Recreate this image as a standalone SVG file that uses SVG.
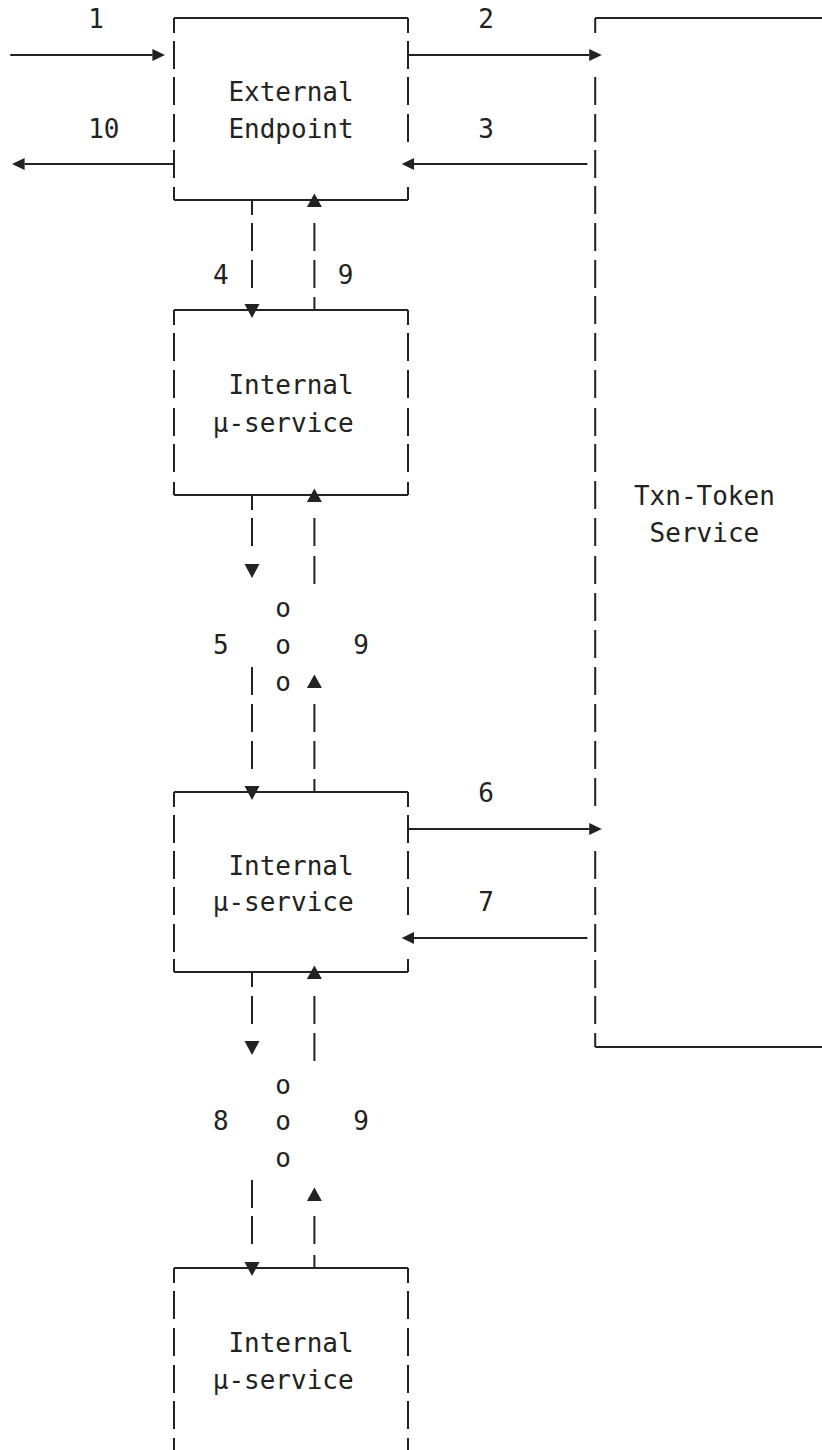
<svg xmlns="http://www.w3.org/2000/svg" width="822" height="1450" viewBox="0 0 822 1450">
<style>
.ln{stroke:#222;stroke-width:2;fill:none}
.ah{fill:#222}
.t{font-family:"DejaVu Sans Mono","Liberation Mono",monospace;font-size:26px;fill:#222;text-anchor:middle}
</style>
<rect width="822" height="1450" fill="#fff"/>
<g id="external-endpoint">
<path class="ln" d="M174,18H408M174,200H408
M174,18V33M174,41V69M174,77V105M174,114V142M174,150V178M174,187V200
M408,18V33M408,41V69M408,77V105M408,114V142M408,187V200"/>
<text class="t" x="291" y="101">External</text>
<text class="t" x="291" y="138">Endpoint</text>
</g>
<g id="internal-1">
<path class="ln" d="M174,310H408M174,495H408
M174,310V325M174,333V361M174,370V398M174,408V436M174,444V472M174,482V495
M408,310V325M408,333V361M408,370V398M408,408V436M408,444V472M408,482V495"/>
<text class="t" x="291" y="394">Internal</text>
<text class="t" x="283.2" y="432">μ-service</text>
</g>
<g id="internal-2">
<path class="ln" d="M174,792H408M174,972H408
M174,792V807M174,815V843M174,851V879M174,887V915M174,924V952M174,959V972
M408,792V807M408,815V843M408,851V879M408,887V915M408,959V972"/>
<text class="t" x="291" y="875">Internal</text>
<text class="t" x="283.2" y="911">μ-service</text>
</g>
<g id="internal-3">
<path class="ln" d="M174,1268H408
M174,1268V1283M174,1291V1319M174,1328V1356M174,1365V1393M174,1401V1429M174,1438V1466
M408,1268V1283M408,1291V1319M408,1328V1356M408,1365V1393M408,1401V1429M408,1438V1466"/>
<text class="t" x="291" y="1352">Internal</text>
<text class="t" x="283.2" y="1389">μ-service</text>
</g>
<g id="txn-token-service">
<path class="ln" d="M595.2,18H822M595.2,1047H822
M595.2,18V33
M595.2,77V105M595.2,114V142M595.2,150V178M595.2,186V214M595.2,223V251M595.2,260V288M595.2,296V324M595.2,333V361M595.2,370V398M595.2,408V436M595.2,444V472M595.2,481V509M595.2,518V546M595.2,556V584M595.2,593V621M595.2,630V658M595.2,667V695M595.2,704V732M595.2,741V769M595.2,778V806
M595.2,851V879M595.2,887V915M595.2,924V952M595.2,960V988M595.2,996V1024M595.2,1033V1047"/>
<text class="t" x="704.4" y="505">Txn-Token</text>
<text class="t" x="704.4" y="542">Service</text>
</g>
<g id="connectors">
<path class="ln" d="M10.2,55H152.4M408,55H589.2M24.6,164H174M414,164H587.4
M408,829H589.2M414,938H587.4
M252,200V215M252,223V251M252,260V288
M314.4,223V251M314.4,260V288M314.4,297V310
M252,495V510M252,518V546M252,667V695M252,704V732M252,741V769
M314.4,518V546M314.4,556V584M314.4,704V732M314.4,741V769M314.4,779V792
M252,972V987M252,996V1024M252,1180V1208M252,1216V1244
M314.4,996V1024M314.4,1033V1061M314.4,1216V1244M314.4,1255V1268"/>
<polygon class="ah" points="152.4,49 165,55 152.4,61"/>
<polygon class="ah" points="589.2,49 601.8,55 589.2,61"/>
<polygon class="ah" points="24.6,158 12,164 24.6,170"/>
<polygon class="ah" points="414,158 401.7,164 414,170"/>
<polygon class="ah" points="589.2,823 601.8,829 589.2,835"/>
<polygon class="ah" points="414,932 401.7,938 414,944"/>
<polygon class="ah" points="306.9,207 321.9,207 314.4,193.5"/>
<polygon class="ah" points="244.5,304 259.5,304 252,318"/>
<polygon class="ah" points="306.9,502 321.9,502 314.4,488.5"/>
<polygon class="ah" points="244.5,564 259.5,564 252,578"/>
<polygon class="ah" points="306.9,688 321.9,688 314.4,674.5"/>
<polygon class="ah" points="244.5,786 259.5,786 252,800"/>
<polygon class="ah" points="306.9,979 321.9,979 314.4,965.5"/>
<polygon class="ah" points="244.5,1041 259.5,1041 252,1055"/>
<polygon class="ah" points="306.9,1201 321.9,1201 314.4,1187.5"/>
<polygon class="ah" points="244.5,1262 259.5,1262 252,1276"/>
</g>
<g id="labels">
<text class="t" x="96" y="28">1</text>
<text class="t" x="486" y="28">2</text>
<text class="t" x="103.8" y="138">10</text>
<text class="t" x="486" y="138">3</text>
<text class="t" x="220.8" y="284">4</text>
<text class="t" x="345.6" y="284">9</text>
<text class="t" x="283.2" y="617">o</text>
<text class="t" x="220.8" y="654">5</text>
<text class="t" x="283.2" y="654">o</text>
<text class="t" x="361.2" y="654">9</text>
<text class="t" x="283.2" y="691">o</text>
<text class="t" x="486" y="802">6</text>
<text class="t" x="486" y="911">7</text>
<text class="t" x="283.2" y="1094">o</text>
<text class="t" x="220.8" y="1130">8</text>
<text class="t" x="283.2" y="1130">o</text>
<text class="t" x="361.2" y="1130">9</text>
<text class="t" x="283.2" y="1167">o</text>
</g>
</svg>
